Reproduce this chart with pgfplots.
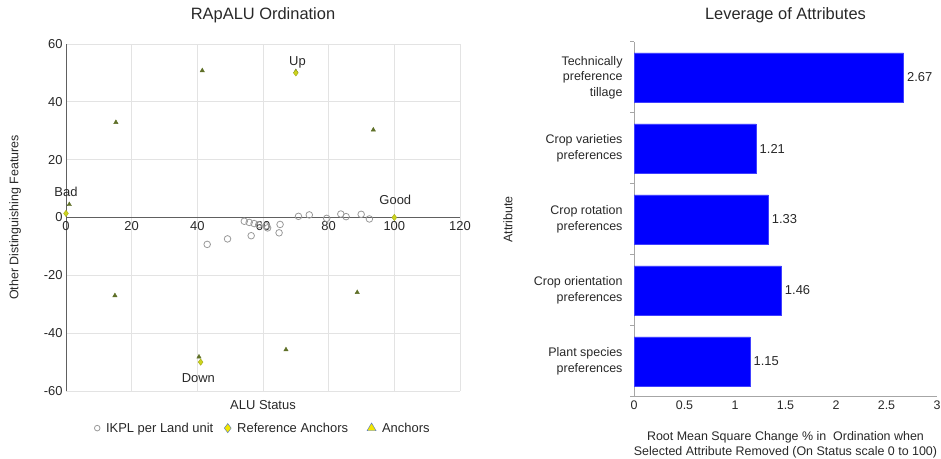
\documentclass[border=0pt]{standalone}
\usepackage{fontspec}
\setmainfont{Liberation Sans}
\usepackage{pgfplots}
\pgfplotsset{compat=1.18}

\definecolor{refyel}{RGB}{205,212,30}
\definecolor{anchgrn}{RGB}{95,112,40}
\definecolor{legblue}{RGB}{70,110,200}
\definecolor{txt}{RGB}{40,40,40}

\newcommand{\fs}[1]{\fontsize{#1}{#1}\selectfont}

\begin{document}
\begin{tikzpicture}
\useasboundingbox (0,0) rectangle (941bp,459bp);

% ---- left: ordination scatter
\begin{axis}[
    at={(66bp,68bp)}, anchor=south west,
    scale only axis, width=394bp, height=347bp,
    xmin=0, xmax=120, ymin=-60, ymax=60,
    clip=false,
    axis lines=middle,
    axis line style={-, gray!75!black, line width=0.9bp},
    xtick={0,20,...,120}, ytick={-60,-40,...,60},
    hide obscured x ticks=false, hide obscured y ticks=false,
    grid=major, grid style={gray!22, line width=0.8bp},
    major tick length=0,
    tick label style={font=\fs{13}, text=txt},
    /pgf/number format/assume math mode=true,
    title={RApALU Ordination},
    title style={at={(axis description cs:0.5,1.066)}, anchor=center, font=\fs{16.5}, text=txt},
    xlabel={ALU Status},
    xlabel style={at={(axis description cs:0.5,-0.040)}, anchor=center, font=\fs{13}, text=txt},
    ylabel={Other Distinguishing Features},
    ylabel style={at={(axis description cs:-0.129,0.5)}, anchor=center, rotate=90, font=\fs{12.5}, text=txt},
    legend style={at={(axis description cs:0.5,-0.107)}, anchor=center, draw=none,
        legend columns=3, font=\fs{13}, text=txt,
        /tikz/every odd column/.append style={column sep=4bp},
        /tikz/column 2/.style={column sep=9bp},
        /tikz/column 4/.style={column sep=17bp}},
]
\addplot[only marks, mark=o, mark size=3.3bp, draw=gray!80, thick, forget plot] coordinates {
    (43.0,-9.3) (49.2,-7.4) (56.4,-6.3) (54.3,-1.3) (55.8,-1.7) (57.3,-2.1)
    (58.7,-2.5) (60.9,-2.9) (61.4,-3.6) (64.9,-5.3) (65.2,-2.4) (70.8,0.4)
    (74.1,0.9) (79.4,-0.3) (83.7,1.2) (85.3,0.3) (89.9,1.1) (92.4,-0.5)
};
\addplot[only marks, mark=triangle*, mark size=2.5bp, draw=anchgrn, fill=anchgrn, forget plot] coordinates {
    (1,4.5) (41.5,50.8) (15.2,32.9) (93.6,30.3) (70,50.5)
    (14.9,-27) (88.7,-25.9) (67,-45.7) (40.5,-48.2)
};
\addplot[only marks, mark=diamond*, mark size=3.2bp, draw=refyel!80!black, fill=refyel, forget plot] coordinates {
    (0,1.4) (100,0) (70,50) (41,-50)
};
\addlegendimage{only marks, mark=o, mark size=2.8bp, draw=gray!80, thick}
\addlegendentry{IKPL per Land unit}
\addlegendimage{only marks, mark=diamond*, mark size=4.6bp, draw=legblue, fill=yellow!90!olive}
\addlegendentry{Reference Anchors}
\addlegendimage{only marks, mark=triangle*, mark size=5.2bp, draw=legblue, fill=yellow!90!olive}
\addlegendentry{Anchors}

\node[font=\fs{13}, text=txt] at (axis cs:0,9) {Bad};
\node[font=\fs{13}, text=txt] at (axis cs:100.3,6) {Good};
\node[font=\fs{13}, text=txt] at (axis cs:70.5,53.5) {Up};
\node[font=\fs{13}, text=txt] at (axis cs:40.3,-55.5) {Down};
\end{axis}

% ---- right: leverage bars
\begin{axis}[
    at={(634bp,62bp)}, anchor=south west,
    scale only axis, width=303bp, height=355bp,
    xbar, bar width=49bp,
    xmin=0, xmax=3, ymin=-0.5, ymax=4.5,
    axis x line*=bottom, axis y line*=left,
    axis line style={gray!70, line width=1bp},
    xtick={0,0.5,...,3},
    ytick={0,...,4},
    yticklabels={{Plant species\\preferences},{Crop orientation\\preferences},{Crop rotation\\preferences},{Crop varieties\\preferences},{Technically\\preference\\tillage}},
    minor ytick={-0.5,0.5,...,4.5},
    major tick length=0, minor tick length=4bp,
    tick align=outside, ytick pos=left, xtick pos=bottom,
    minor tick style={gray!70, line width=1bp},
    tick label style={text=txt},
    xticklabel style={font=\fs{12.5}},
    yticklabel style={font=\fontsize{12.5}{15.5}\selectfont, align=right, xshift=-8bp},
    /pgf/number format/assume math mode=true,
    nodes near coords,
    nodes near coords style={font=\fs{13}, text=txt, /pgf/number format/.cd, fixed, precision=2, fixed zerofill},
    title={Leverage of Attributes},
    title style={at={(axis description cs:0.5,1.059)}, anchor=center, font=\fs{16.5}, text=txt},
    xlabel={Root Mean Square Change \% in\ \ Ordination when\\Selected Attribute Removed (On Status scale 0 to 100)},
    xlabel style={at={(axis description cs:0.5,-0.134)}, anchor=center, align=center, font=\fontsize{12.5}{15}\selectfont, text=txt},
    ylabel={Attribute},
    ylabel style={at={(axis description cs:-0.416,0.5)}, anchor=center, font=\fs{12.5}, text=txt},
]
\addplot[fill=blue, draw=blue!75!white] coordinates {
    (1.15,0) (1.46,1) (1.33,2) (1.21,3) (2.67,4)
};
\end{axis}
\end{tikzpicture}
\end{document}
